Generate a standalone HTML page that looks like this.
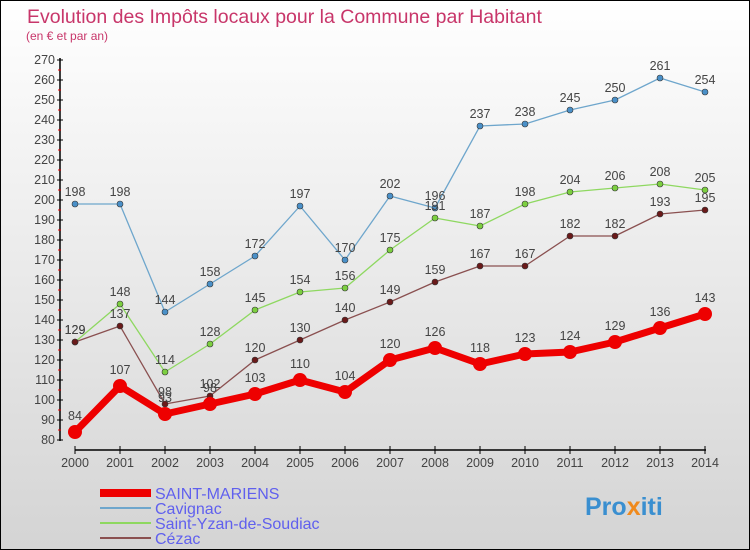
<!DOCTYPE html>
<html><head><meta charset="utf-8"><style>
body{margin:0;}
#c{width:750px;height:550px;position:relative;overflow:hidden;}
svg text{font-family:"Liberation Sans",sans-serif;}
</style></head><body>
<div id="c">
<svg id="s" width="750" height="550" xmlns="http://www.w3.org/2000/svg">
<defs><linearGradient id="bg" x1="0" y1="0" x2="0" y2="1"><stop offset="0" stop-color="#ffffff"/><stop offset="1" stop-color="#d4d4d4"/></linearGradient></defs>
<rect x="0.5" y="0.5" width="749" height="549" fill="url(#bg)" stroke="#000"/>
<text x="27" y="23" font-size="19.5" fill="#c8366a">Evolution des Impôts locaux pour la Commune par Habitant</text>
<text x="26" y="40" font-size="12" fill="#c8366a">(en € et par an)</text>
<g id="axes"></g><g id="series"></g>
<g>
<line x1="100" y1="493" x2="151" y2="493" stroke="#ee0000" stroke-width="8"/>
<text x="155" y="499" font-size="16" fill="#6060ee">SAINT-MARIENS</text>
<line x1="100" y1="508" x2="151" y2="508" stroke="#6ea6cc" stroke-width="2"/>
<text x="155" y="514" font-size="16" fill="#6060ee">Cavignac</text>
<line x1="100" y1="523" x2="151" y2="523" stroke="#8ed860" stroke-width="2"/>
<text x="155" y="529" font-size="16" fill="#6060ee">Saint-Yzan-de-Soudiac</text>
<line x1="100" y1="538" x2="151" y2="538" stroke="#8a5050" stroke-width="2"/>
<text x="155" y="544" font-size="16" fill="#6060ee">Cézac</text>
</g>
<text x="585" y="515" font-size="25" font-weight="bold" fill="#3a8fd0">Pro<tspan fill="#f08a1c">x</tspan><tspan fill="#3a8fd0">iti</tspan></text>
</svg></div>
<script>
const years=[2000,2001,2002,2003,2004,2005,2006,2007,2008,2009,2010,2011,2012,2013,2014];
const yTicks=[80,90,100,110,120,130,140,150,160,170,180,190,200,210,220,230,240,250,260,270];
const saintMariens=[84,107,93,98,103,110,104,120,126,118,123,124,129,136,143];
const cavignac=[198,198,144,158,172,197,170,202,196,237,238,245,250,261,254];
const saintYzan=[129,148,114,128,145,154,156,175,191,187,198,204,206,208,205];
const cezac=[129,137,98,102,120,130,140,149,159,167,167,182,182,193,195];
const NS="http://www.w3.org/2000/svg";
const xs=i=>75+i*45.0;
const ys=v=>440-(v-80)*2;
function mk(t,a,p){const e=document.createElementNS(NS,t);for(const k in a)e.setAttribute(k,a[k]);p.appendChild(e);return e;}
const ax=document.getElementById('axes');
let l=mk('line',{x1:60,y1:58,x2:60,y2:441,stroke:'#000','stroke-width':1.5},ax);


l=mk('line',{x1:75,y1:450,x2:706,y2:450,stroke:'#000','stroke-width':1.5},ax);


yTicks.forEach((v,i)=>{
  const y=ys(v);
  mk('line',{x1:57,y1:y,x2:63,y2:y,stroke:'#000'},ax);
  if(i<yTicks.length-1) mk('line',{x1:58,y1:y-10,x2:61,y2:y-10,stroke:'#e00'},ax);
  const t=mk('text',{x:55,y:y+4,'font-size':12.5,fill:'#444','text-anchor':'end'},ax);
  t.textContent=v;
  
  
});
years.forEach((yr,i)=>{
  const x=xs(i);
  mk('line',{x1:x,y1:446,x2:x,y2:454,stroke:'#000'},ax);
  const t=mk('text',{x:x,y:467,'font-size':12.5,fill:'#444','text-anchor':'middle'},ax);
  t.textContent=yr;
  
  
});
const sg=document.getElementById('series');
function series(vals,color,dot,w,r,name,fs){
  const g=mk('g',{},sg);
  
  
  const pts=vals.map((v,i)=>xs(i)+','+ys(v)).join(' ');
  mk('polyline',{points:pts,fill:'none',stroke:color,'stroke-width':w,'stroke-linejoin':'round'},g);
  vals.forEach((v,i)=>{
    const c=mk('circle',{cx:xs(i),cy:ys(v),r:r,fill:dot,stroke:'#333','stroke-width':r>4?0:0.6},g);
    
    
    const t=mk('text',{x:xs(i),y:ys(v)-(r+5),'font-size':fs,fill:'#444','text-anchor':'middle'},g);
    t.textContent=v;
    
    
  });
}
series(cavignac,'#6ea6cc','#4a90c8',1.3,3,'cavignac-series',12.5);
series(saintYzan,'#8ed860','#7ccf40',1.3,3,'saint-yzan-series',12.5);
series(cezac,'#8a5050','#6a1a1a',1.3,3,'cezac-series',12.5);
series(saintMariens,'#ee0000','#ee0000',7,7,'saint-mariens-series',12.5);
</script>
</body></html>
